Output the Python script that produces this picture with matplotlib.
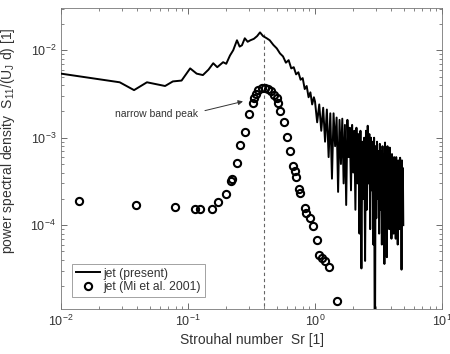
import matplotlib
matplotlib.use("Agg")
import matplotlib.pyplot as plt
import numpy as np

plt.rcParams['font.family'] = ['Liberation Sans', 'DejaVu Sans']
plt.rcParams['mathtext.fontset'] = 'custom'
plt.rcParams['mathtext.rm'] = 'Liberation Sans'
plt.rcParams['mathtext.it'] = 'Liberation Sans'

# ---- data: jet (present) spectrum ----
sr_present = [
    0.010, 0.029, 0.0376, 0.0475, 0.066, 0.076, 0.089, 0.104, 0.117, 0.131,
    0.145, 0.158, 0.170, 0.189, 0.200, 0.214, 0.227, 0.243, 0.255, 0.266,
    0.280, 0.295, 0.310, 0.330, 0.350, 0.369, 0.390, 0.417,
    0.44, 0.47, 0.50, 0.53, 0.56, 0.59, 0.62, 0.65, 0.68, 0.71,
    0.74, 0.77, 0.80, 0.83, 0.86, 0.89, 0.92, 0.95, 0.98,
    1.00, 1.04, 1.08, 1.12, 1.16, 1.20, 1.24, 1.28, 1.32, 1.36,
    1.40, 1.44, 1.48, 1.52, 1.56, 1.60, 1.64, 1.68, 1.72, 1.76,
    1.80, 1.84, 1.88, 1.92, 1.96, 2.00, 2.04, 2.08, 2.12, 2.16,
    2.20, 2.24, 2.28, 2.32, 2.36, 2.40, 2.44, 2.48, 2.52, 2.56,
    2.60, 2.64, 2.68, 2.72, 2.76, 2.80, 2.84, 2.88, 2.92, 2.96,
    3.00, 3.04, 3.08, 3.12, 3.16, 3.20, 3.24, 3.28, 3.32, 3.36,
    3.40, 3.44, 3.48, 3.52, 3.56, 3.60, 3.64, 3.68, 3.72, 3.76,
    3.80, 3.84, 3.88, 3.92, 3.96, 4.00, 4.04, 4.08, 4.12, 4.16,
    4.20, 4.24, 4.28, 4.32, 4.36, 4.40, 4.44, 4.48, 4.52, 4.56,
    4.60, 4.64, 4.68, 4.72, 4.76, 4.80, 4.84, 4.88, 4.92, 4.96,
]
psd_present = [
    5.4e-3, 4.3e-3, 3.5e-3, 4.3e-3, 3.9e-3, 4.4e-3, 4.5e-3, 6.2e-3, 5.4e-3, 5.2e-3,
    6.0e-3, 7.1e-3, 6.4e-3, 7.3e-3, 7.0e-3, 8.7e-3, 1.0e-2, 1.3e-2, 1.1e-2, 1.14e-2,
    1.37e-2, 1.25e-2, 1.3e-2, 1.35e-2, 1.45e-2, 1.6e-2, 1.45e-2, 1.37e-2,
    1.3e-2, 1.15e-2, 1.05e-2, 9.2e-3, 8.5e-3, 7.2e-3, 7.7e-3, 6.2e-3, 6.4e-3, 5.3e-3,
    5.6e-3, 4.6e-3, 4.8e-3, 3.6e-3, 3.9e-3, 2.9e-3, 3.3e-3, 2.4e-3, 2.9e-3,
    2.6e-3, 1.5e-3, 2.4e-3, 1.2e-3, 2.2e-3, 9.0e-4, 2.1e-3, 6.0e-4, 1.9e-3, 3.4e-4,
    1.9e-3, 8.0e-4, 1.7e-3, 2.4e-4, 1.6e-3, 5.0e-4, 1.65e-3, 3.0e-4, 1.4e-3, 1.7e-4,
    1.6e-3, 6.0e-4, 1.3e-3, 2.5e-4, 1.4e-3, 4.0e-4, 1.2e-3, 1.5e-4, 1.3e-3, 3.0e-4,
    1.1e-3, 8.0e-5, 1.2e-3, 3.2e-5, 9.0e-4, 2.0e-4, 1.0e-3, 3.9e-5, 1.2e-3, 1.5e-4,
    1.37e-3, 3.0e-4, 1.1e-3, 9.0e-5, 1.0e-3, 2.5e-4, 9.0e-4, 6.0e-5, 1.0e-3, 1.0e-6,
    8.0e-4, 1.2e-4, 9.0e-4, 2.0e-4, 7.0e-4, 8.0e-5, 8.5e-4, 1.5e-4, 7.0e-4, 6.0e-5,
    8.0e-4, 2.0e-4, 6.5e-4, 3.6e-5, 8.8e-4, 1.2e-4, 7.5e-4, 4.3e-5, 8.0e-4, 1.8e-4,
    7.0e-4, 9.0e-5, 7.7e-4, 2.0e-4, 6.0e-4, 7.0e-5, 6.5e-4, 1.5e-4, 5.5e-4, 8.0e-5,
    6.0e-4, 1.8e-4, 5.0e-4, 7.0e-5, 6.0e-4, 1.4e-4, 5.0e-4, 6.0e-5, 5.5e-4, 2.0e-4,
    5.0e-4, 9.0e-5, 5.9e-4, 1.5e-4, 4.5e-4, 3.1e-5, 5.5e-4, 2.0e-4, 4.5e-4, 1.0e-4,
]

# ---- data: jet (Mi et al. 2001) ----
sr_mi = [
    0.0139, 0.0387, 0.079, 0.1135, 0.124, 0.154, 0.173, 0.198, 0.217, 0.221,
    0.242, 0.257, 0.281, 0.304, 0.323, 0.331, 0.341, 0.358, 0.380, 0.404,
    0.429, 0.450, 0.475, 0.499, 0.508, 0.530, 0.573, 0.605, 0.636, 0.675,
    0.696, 0.708, 0.753, 0.762, 0.834, 0.849, 0.912, 0.957, 1.03, 1.08,
    1.13, 1.20, 1.30, 1.50,
]
psd_mi = [
    1.89e-4, 1.68e-4, 1.62e-4, 1.55e-4, 1.55e-4, 1.55e-4, 1.84e-4, 2.29e-4, 3.2e-4, 3.4e-4,
    5.1e-4, 8.3e-4, 1.15e-3, 1.86e-3, 2.5e-3, 2.86e-3, 3.2e-3, 3.47e-3, 3.7e-3, 3.7e-3,
    3.6e-3, 3.4e-3, 3.1e-3, 2.83e-3, 2.5e-3, 2.04e-3, 1.53e-3, 1.02e-3, 7.0e-4, 4.8e-4,
    4.2e-4, 3.6e-4, 2.6e-4, 2.35e-4, 1.58e-4, 1.38e-4, 1.2e-4, 9.8e-5, 6.8e-5, 4.6e-5,
    4.2e-5, 3.9e-5, 3.3e-5, 1.36e-5,
]

sr_peak = 0.4
psd_peak_top = 1.55e-2
labels = ['jet (present)', 'jet (Mi et al. 2001)']

txt = '#333333'
fig = plt.figure(figsize=(4.5, 3.54), dpi=100)
ax = fig.add_axes([61/450, 1-309/354, (442-61)/450, (309-8)/354])

ax.plot(sr_present, psd_present, color='black', lw=1.4, label=labels[0], zorder=3)
ax.plot(sr_mi, psd_mi, ls='none', marker='o', ms=5.2, mfc='none', mec='black',
        mew=1.5, label=labels[1], zorder=4)
ax.plot([sr_peak, sr_peak], [1e-6, psd_peak_top], color='#666666', lw=0.8,
        ls=(0, (3, 2.5)), zorder=2)

ax.set_xscale('log')
ax.set_yscale('log')
ax.set_xlim(1e-2, 1e1)
ax.set_ylim(1.1e-5, 3.04e-2)

ax.tick_params(which='both', direction='in', top=True, right=True,
               colors='#555555', labelcolor=txt, labelsize=9)
ax.tick_params(which='major', length=4, width=0.6)
ax.tick_params(which='minor', length=2.2, width=0.5)
for s in ax.spines.values():
    s.set_color('#777777')
    s.set_linewidth(0.6)

ax.set_xlabel('Strouhal number  Sr [1]', fontsize=10, color=txt, labelpad=3)
ax.set_ylabel('power spectral density  S$_{11}$/(U$_J$ d) [1]', fontsize=10,
              color=txt, labelpad=4)
ax.yaxis.set_label_coords(-0.115, 0.56)

ax.text(0.12, 1.89e-3, 'narrow band peak', fontsize=7.5, color=txt,
        ha='right', va='center')
ax.annotate('', xy=(0.271, 2.6e-3), xytext=(0.136, 2.04e-3),
            arrowprops=dict(arrowstyle='-|>', color='#333333', lw=0.7,
                            mutation_scale=7, shrinkA=0, shrinkB=0))

leg = ax.legend(loc='lower left', bbox_to_anchor=(11/381, 12/301),
                borderaxespad=0, fontsize=8.7, frameon=True, fancybox=False,
                edgecolor='#777777', handlelength=2.0, handletextpad=0.3,
                borderpad=0.3, labelspacing=0.15)
leg.get_frame().set_linewidth(0.6)
for t in leg.get_texts():
    t.set_color(txt)

fig.savefig('out.png', dpi=100)
